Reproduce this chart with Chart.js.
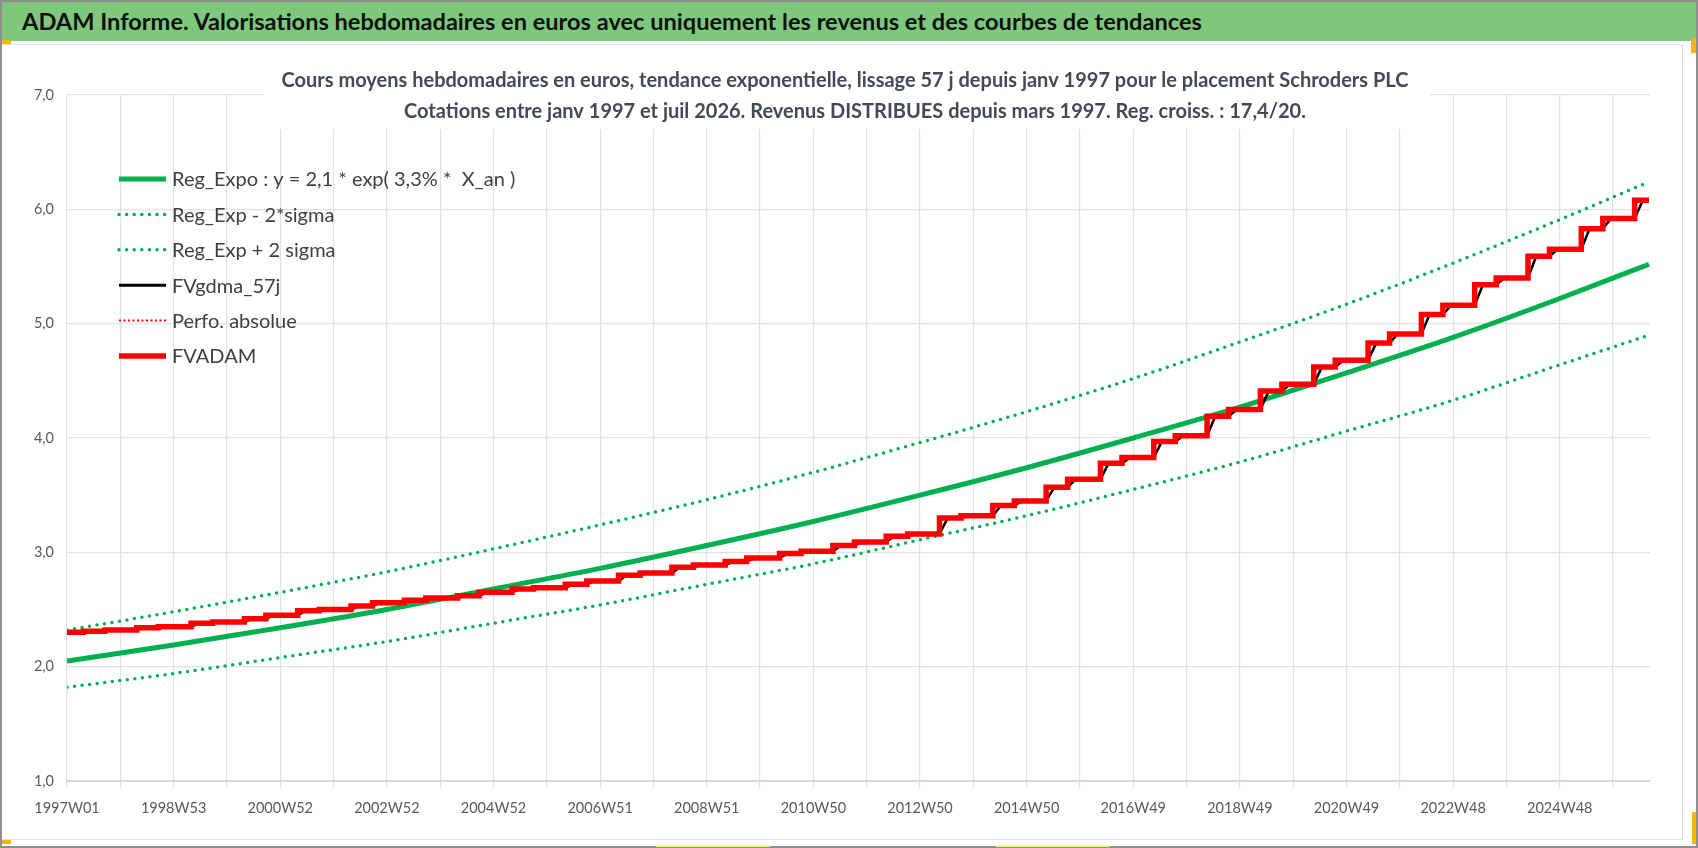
<!DOCTYPE html>
<html lang="fr">
<head>
<meta charset="utf-8">
<title>ADAM Informe - Schroders PLC</title>
<script src="https://cdn.jsdelivr.net/npm/chart.js@4.4.1/dist/chart.umd.min.js"></script>
<style>
  html, body { margin: 0; padding: 0; background: #fff; }
  body { width: 1698px; height: 848px; position: relative; overflow: hidden; font-family: Lato, 'Open Sans', sans-serif; }
  #frame { position: absolute; left: 0; top: 0; width: 1694px; height: 844px; border: 2px solid #8e8e8e; }
  #banner { position: absolute; left: 2px; top: 2px; width: 1694px; height: 39px; background: #7ec87e; }
  #banner h1 { margin: 0; font-size: 23.6px; font-weight: 700; color: #111; line-height: 39px; padding-left: 20px; white-space: nowrap; }
  #chartBox { position: absolute; left: 2px; top: 44px; width: 1680px; height: 794px; border-top: 1px solid #e3e3e3; border-right: 1px solid #d9d9d9; border-bottom: 1px solid #e3e3e3; }
  .handle { position: absolute; background: #f5b800; }
  .hint { position: absolute; background: #f7ef8a; height: 2px; }
</style>
</head>
<body>
<div id="frame"></div>
<div id="banner"><h1>ADAM Informe. Valorisations hebdomadaires en euros avec uniquement les revenus et des courbes de tendances</h1></div>
<div id="chartBox"><canvas id="adam-chart" width="1680" height="794"></canvas></div>
<div class="handle" style="left:2px;top:40px;width:9px;height:4px"></div>
<div class="handle" style="left:1691px;top:38px;width:5px;height:15px"></div>
<div class="handle" style="left:1692px;top:812px;width:4px;height:32px"></div>
<div class="handle" style="left:2px;top:840px;width:9px;height:4px"></div>
<div class="hint" style="left:656px;top:845px;width:114px"></div>
<div class="hint" style="left:996px;top:845px;width:114px"></div>

<script>
// Tick labels of the weekly axis (one every 104 weeks)
const xTickLabels = ['1997W01', '1998W53', '2000W52', '2002W52', '2004W52', '2006W51', '2008W51',
  '2010W50', '2012W50', '2014W50', '2016W49', '2018W49', '2020W49', '2022W48', '2024W48'];

// Trend curves, read at each labelled week and at the last quote
const trendWeeks = [...xTickLabels, '2026W31'];
const regExpo = [2.05, 2.19, 2.34, 2.50, 2.68, 2.86, 3.06, 3.27, 3.50, 3.74, 4.00, 4.27, 4.57, 4.88, 5.22, 5.52];
const regLow = [1.82, 1.94, 2.08, 2.22, 2.38, 2.54, 2.72, 2.90, 3.11, 3.32, 3.55, 3.79, 4.06, 4.33, 4.64, 4.90];
const regHigh = [2.32, 2.48, 2.65, 2.83, 3.03, 3.24, 3.46, 3.70, 3.96, 4.23, 4.52, 4.84, 5.17, 5.53, 5.91, 6.24];

// FVADAM: level after each distribution (final in spring, interim in autumn)
const adamWeeks = ['1997W01',
  '1997W17', '1997W38', '1998W17', '1998W38', '1999W17', '1999W38', '2000W17', '2000W38',
  '2001W17', '2001W38', '2002W17', '2002W38', '2003W17', '2003W38', '2004W17', '2004W38',
  '2005W17', '2005W38', '2006W17', '2006W38', '2007W17', '2007W38', '2008W17', '2008W38',
  '2009W17', '2009W38', '2010W17', '2010W38', '2011W17', '2011W38', '2012W17', '2012W38',
  '2013W17', '2013W38', '2014W17', '2014W38', '2015W17', '2015W38', '2016W17', '2016W38',
  '2017W17', '2017W38', '2018W17', '2018W38', '2019W17', '2019W38', '2020W17', '2020W38',
  '2021W17', '2021W38', '2022W17', '2022W38', '2023W17', '2023W38', '2024W17', '2024W38',
  '2025W17', '2025W38', '2026W17', '2026W31'];
const adamValues = [2.30,
  2.31, 2.32, 2.34, 2.35, 2.38, 2.39, 2.42, 2.45,
  2.49, 2.50, 2.53, 2.56, 2.58, 2.60, 2.62, 2.65,
  2.68, 2.69, 2.72, 2.75, 2.80, 2.82, 2.87, 2.89,
  2.92, 2.95, 2.99, 3.01, 3.06, 3.09, 3.14, 3.16,
  3.30, 3.32, 3.41, 3.45, 3.57, 3.64, 3.78, 3.83,
  3.97, 4.02, 4.19, 4.25, 4.41, 4.47, 4.62, 4.68,
  4.83, 4.91, 5.08, 5.16, 5.34, 5.40, 5.59, 5.65,
  5.83, 5.92, 6.08, 6.08];

// ISO years with 53 weeks in the period
const longIsoYears = [1998, 2004, 2009, 2015, 2020, 2026];
const SMOOTH_LAG = 8; // weeks for the 57 day smoothing to catch up

// Convert "YYYYWww" into a week index counted from 1997W01
function weekIndex(label) {
  const [year, week] = label.split('W').map(Number);
  let idx = 0;
  for (let y = 1997; y < year; y++) {
    idx += longIsoYears.includes(y) ? 53 : 52;
  }
  return idx + week - 1;
}

const trendPoints = (values) => values.map((v, i) => ({ x: weekIndex(trendWeeks[i]), y: v }));
const adamPoints = adamValues.map((v, i) => ({ x: weekIndex(adamWeeks[i]), y: v }));

// Smoothed line: ramps from the previous level to the new one
const smoothPoints = [adamPoints[0]];
for (let i = 1; i < adamPoints.length; i++) {
  const p = adamPoints[i];
  if (adamValues[i] === adamValues[i - 1]) {
    smoothPoints.push(p);
    continue;
  }
  smoothPoints.push({ x: p.x, y: adamValues[i - 1] });
  smoothPoints.push({ x: Math.min(p.x + SMOOTH_LAG, weekIndex('2026W31')), y: p.y });
}

// Title drawn over the top of the plot, on a white box like the original
const chartTitle = {
  id: 'chartTitle',
  afterDraw(chart) {
    const ctx = chart.ctx;
    ctx.save();
    ctx.fillStyle = '#ffffff';
    ctx.fillRect(262, 0, 1166, 84);
    ctx.fillStyle = '#404a58';
    ctx.font = 'bold 20px Lato';
    ctx.textAlign = 'center';
    ctx.textBaseline = 'middle';
    ctx.fillText('Cours moyens hebdomadaires en euros, tendance exponentielle, lissage 57 j depuis janv 1997 pour le placement Schroders PLC', 843, 36);
    ctx.fillText('Cotations entre janv 1997 et juil 2026. Revenus DISTRIBUES depuis mars 1997. Reg. croiss. : 17,4/20.', 853, 67);
    ctx.restore();
  }
};

// Legend inside the plot area, top left
const inlineLegend = {
  id: 'inlineLegend',
  afterDraw(chart) {
    const ctx = chart.ctx;
    ctx.save();
    chart.data.datasets.forEach((ds, i) => {
      const y = 134 + i * 35.4;
      ctx.beginPath();
      ctx.strokeStyle = ds.borderColor;
      ctx.lineWidth = ds.legendWidth || ds.borderWidth;
      ctx.setLineDash(ds.borderDash || []);
      ctx.lineCap = ds.borderCapStyle || 'butt';
      ctx.moveTo(117, y);
      ctx.lineTo(164, y);
      ctx.stroke();
      ctx.setLineDash([]);
      ctx.fillStyle = '#404040';
      ctx.font = '20px Lato';
      ctx.textAlign = 'left';
      ctx.textBaseline = 'middle';
      ctx.fillText(ds.label, 170, y + 1);
    });
    ctx.restore();
  }
};

const canvas = document.getElementById('adam-chart');

new Chart(canvas, {
  type: 'line',
  data: {
    datasets: [
      {
        label: 'Reg_Expo : y = 2,1 * exp( 3,3% *  X_an )',
        data: trendPoints(regExpo),
        borderColor: '#00b050',
        borderWidth: 5,
        cubicInterpolationMode: 'monotone',
        order: 5
      },
      {
        label: 'Reg_Exp - 2*sigma',
        data: trendPoints(regLow),
        borderColor: '#00b050',
        borderWidth: 3.5,
        borderDash: [0, 7.6],
        borderCapStyle: 'round',
        cubicInterpolationMode: 'monotone',
        order: 4
      },
      {
        label: 'Reg_Exp + 2 sigma',
        data: trendPoints(regHigh),
        borderColor: '#00b050',
        borderWidth: 3.5,
        borderDash: [0, 7.6],
        borderCapStyle: 'round',
        cubicInterpolationMode: 'monotone',
        order: 3
      },
      {
        label: 'FVgdma_57j',
        data: smoothPoints,
        borderColor: '#000000',
        borderWidth: 2.5,
        legendWidth: 3,
        order: 2
      },
      {
        label: 'Perfo. absolue',
        data: adamPoints,
        stepped: true,
        borderColor: '#ff0000',
        borderWidth: 2,
        borderDash: [2, 2.5],
        order: 1
      },
      {
        label: 'FVADAM',
        data: adamPoints,
        stepped: true,
        borderColor: '#ff0000',
        borderWidth: 5.5,
        borderJoinStyle: 'miter',
        order: 0
      }
    ]
  },
  options: {
    responsive: false,
    animation: false,
    layout: {
      padding: { top: 50, right: 32, left: 0, bottom: 0 }
    },
    elements: {
      point: { radius: 0, hoverRadius: 0 },
      line: { tension: 0 }
    },
    scales: {
      x: {
        type: 'linear',
        min: 0,
        max: weekIndex('2026W31') + 1,
        afterFit: (scale) => { scale.height = 58; },
        ticks: {
          stepSize: 52,
          autoSkip: false,
          maxRotation: 0,
          includeBounds: false,
          padding: 12,
          color: '#595959',
          font: { family: 'Lato', size: 14.5 },
          callback: (value) => (value % 104 === 0 ? xTickLabels[value / 104] : '')
        },
        grid: {
          color: '#dfe3e8',
          lineWidth: 1.2,
          tickLength: 7
        },
        border: { color: '#d9d9d9', width: 2 }
      },
      y: {
        min: 1,
        max: 7,
        afterFit: (scale) => { scale.width = 65; },
        ticks: {
          stepSize: 1,
          padding: 13,
          color: '#595959',
          font: { family: 'Lato', size: 14.5 },
          callback: (value) => value.toFixed(1).replace('.', ',')
        },
        grid: {
          color: '#dfe3e8',
          lineWidth: 1.2,
          drawTicks: false
        },
        border: { display: false }
      }
    },
    plugins: {
      legend: { display: false },
      tooltip: { enabled: false },
      title: { display: false }
    }
  },
  plugins: [chartTitle, inlineLegend]
});
</script>
</body>
</html>
